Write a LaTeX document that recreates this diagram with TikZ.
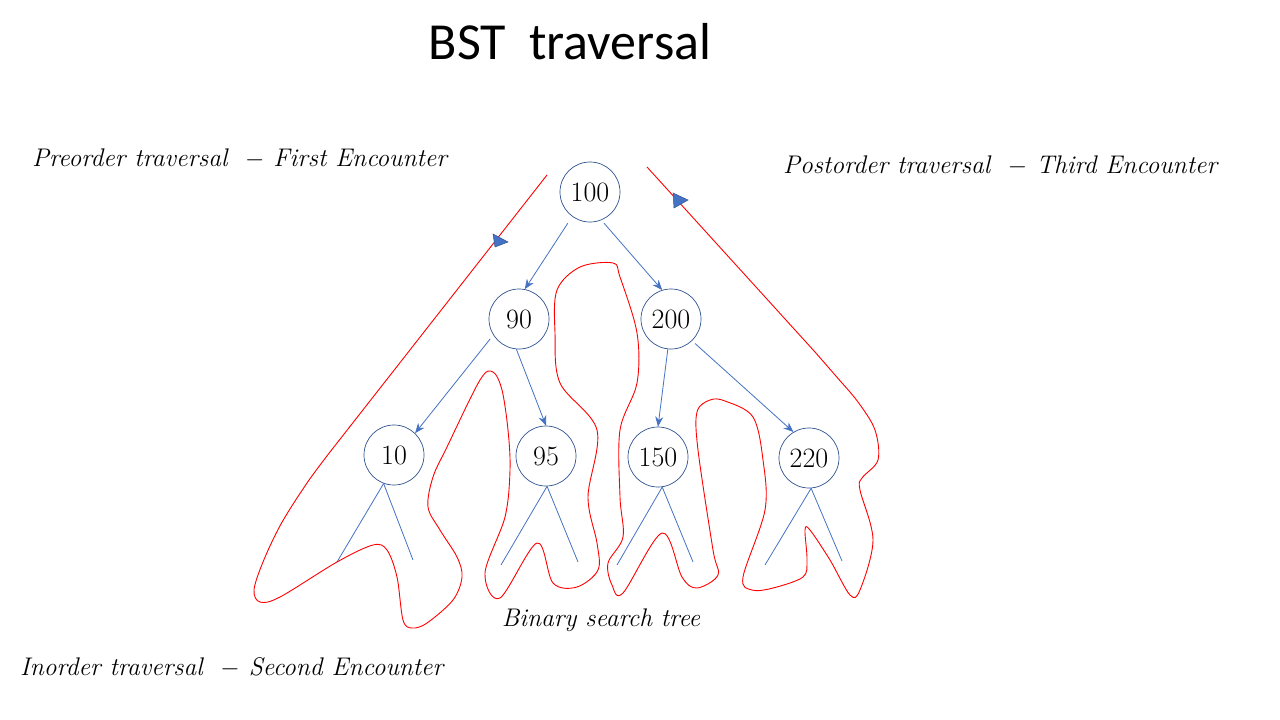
\documentclass[tikz,border=0pt]{standalone}
\usepackage{fontspec}
\newfontfamily\titlefont{Carlito}
\usetikzlibrary{arrows.meta}
\definecolor{nodeblue}{HTML}{2F528F}
\definecolor{edgeblue}{HTML}{4472C4}
\definecolor{redline}{HTML}{FF0000}
\tikzset{
  bstnode/.style={circle, draw=nodeblue, line width=0.7pt, minimum size=60pt, inner sep=0pt, font=\fontsize{28}{32}\selectfont},
  treeedge/.style={draw=edgeblue, line width=0.8pt, -{Stealth[length=10pt,width=8pt]}},
  stub/.style={draw=edgeblue, line width=0.8pt},
  walk/.style={draw=redline, line width=0.9pt},
  tip/.style={fill=edgeblue, draw=nodeblue, line width=0.5pt},
  lbl/.style={font=\fontsize{25.5}{30}\selectfont\itshape, inner sep=0pt}
}
\begin{document}
\begin{tikzpicture}[x=1pt,y=-1pt]
\useasboundingbox (0,0) rectangle (1280,720);
\fill[white] (0,0) rectangle (1280,720);

\node[font=\titlefont\fontsize{52}{58}\selectfont, inner sep=0pt] (title) at (570,42) {BST\ \ traversal};

\node[lbl, anchor=west] (pre) at (32,159) {Preorder traversal\ \ $-$ First Encounter};
\node[lbl, anchor=west] (post) at (783,166) {Postorder traversal\ \ $-$ Third Encounter};
\node[lbl, anchor=west] (in) at (20,668) {Inorder traversal\ \ $-$ Second Encounter};
\node[lbl] (cap) at (601,620) {Binary search tree};

\node[bstnode] (n100) at (590,192) {100};
\node[bstnode] (n90) at (519,319) {90};
\node[bstnode] (n200) at (671,319) {200};
\node[bstnode] (n10) at (394,455) {10};
\node[bstnode] (n95) at (546,456) {95};
\node[bstnode] (n150) at (658,457) {150};
\node[bstnode] (n220) at (809,458) {220};

\draw[treeedge, shorten <=8pt] (n100.-126) -- (n90.79);
\draw[treeedge, shorten <=4pt] (n100.-68) -- (n200.107);
\draw[treeedge, shorten <=5pt] (n90.-148) -- (n10.46);
\draw[treeedge] (n90.-95) -- (n95.90);
\draw[treeedge] (n200.-96) -- (n150.90);
\draw[treeedge, shorten <=4pt] (n200.-46) -- (n220.121);

\coordinate (l10a) at (337,562); \coordinate (l10b) at (413,560);
\coordinate (l95a) at (501,565); \coordinate (l95b) at (578,562);
\coordinate (l150a) at (617,565); \coordinate (l150b) at (693,562);
\coordinate (l220a) at (765,565); \coordinate (l220b) at (842,561);
\draw[stub] (n10.-110) -- (l10a);
\draw[stub] (n10.-110) -- (l10b);
\draw[stub] (n95.-88) -- (l95a);
\draw[stub] (n95.-88) -- (l95b);
\draw[stub] (n150.-82) -- (l150a);
\draw[stub] (n150.-82) -- (l150b);
\draw[stub] (n220.-86) -- (l220a);
\draw[stub] (n220.-86) -- (l220b);

\draw[walk] (547,175) -- plot[smooth, tension=0.55] coordinates {
(330,452) (307,483) (281,524) (263,562) (254,590) (260,602) (280,597)
(337,562) (373,545) (387,550) (397,577) (403,620) (412,628) (427,623) (453,600)
(462,577) (457,557) (440,530) (428,507) (433,477) (447,447) (480,380) (493,372)
(502,390) (508,430) (510,470) (505,517) (485,573) (500,598) (537,543) (553,583)
(577,587) (598,570) (597,543) (588,497) (597,430) (560,383) (555,333) (557,290)
(580,267) (613,263) (620,277) (637,333) (637,383) (620,430) (620,497) (623,537)
(608,563) (612,585) (623,593) (662,533) (682,577) (697,588) (718,575) (713,550)
(698,450) (697,412) (710,400) (725,401) (753,417) (763,460) (765,510) (743,577)
(752,590) (773,588) (803,577) (807,560) (805,530) (810,530) (830,560) (850,595)
(860,590) (873,540) (860,490) (862,478) (878,460) (875,430) (858,402) (835,375) (815,352)} -- (647,167);

\coordinate (t1a) at (493,234); \coordinate (t1b) at (495,247); \coordinate (t1c) at (508,242);
\coordinate (t2a) at (673,193); \coordinate (t2b) at (674,208); \coordinate (t2c) at (688,200);
\filldraw[tip] (t1a) -- (t1b) -- (t1c) -- cycle;
\filldraw[tip] (t2a) -- (t2b) -- (t2c) -- cycle;
\end{tikzpicture}
\end{document}
